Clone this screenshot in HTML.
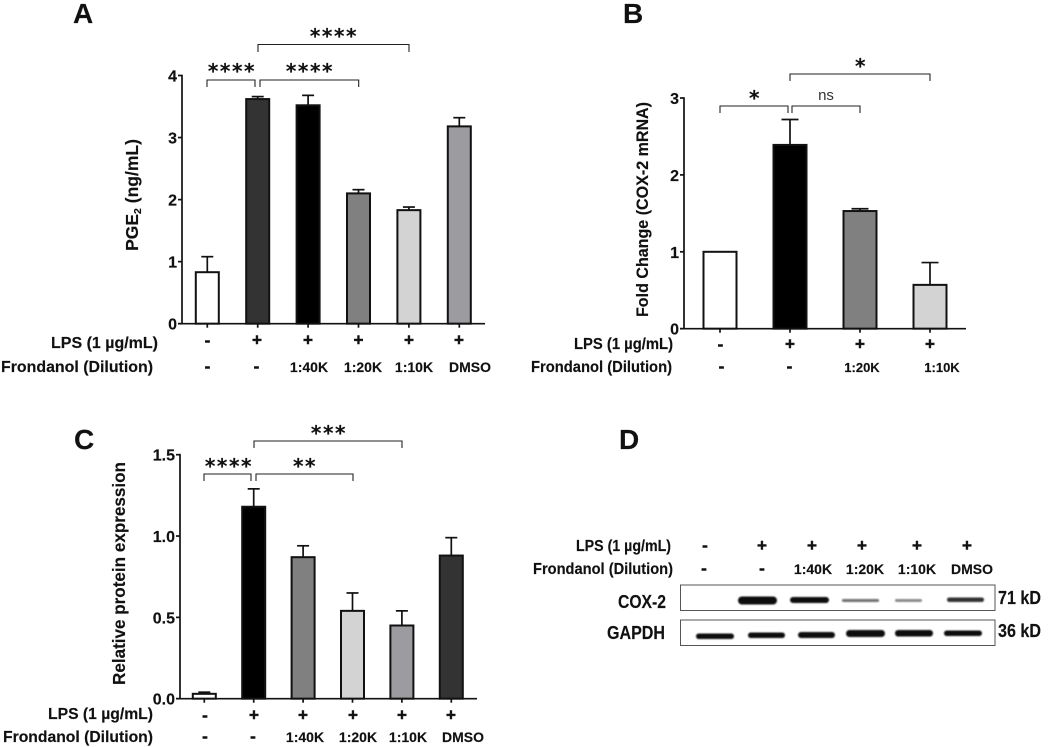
<!DOCTYPE html>
<html>
<head>
<meta charset="utf-8">
<title>Frondanol COX-2 figure</title>
<style>
html,body{margin:0;padding:0;background:#fff;width:1059px;height:747px;overflow:hidden}
svg{display:block;filter:blur(.3px)}
text{font-family:"Liberation Sans",sans-serif;font-weight:bold;fill:#111;stroke:#111;stroke-width:.15px}
.row{font-size:14px;text-anchor:middle}
.sign{font-size:17px;text-anchor:middle;stroke-width:.5px}
.rl{text-anchor:end;font-size:15.5px}
.star{font-family:"DejaVu Sans","Liberation Sans",sans-serif;font-size:20px;text-anchor:middle;letter-spacing:1.6px}
.letter{font-size:28px}
.br{fill:none;stroke:#222;stroke-width:1.1}
.bn{fill:#0c0c0c}
</style>
</head>
<body>
<svg id="fig" width="1059" height="747" viewBox="0 0 1059 747" xmlns="http://www.w3.org/2000/svg">
<defs><filter id="soft" x="-10%" y="-100%" width="120%" height="300%"><feGaussianBlur stdDeviation="0.7"/></filter></defs>

<text class="letter" x="73" y="23">A</text>
<text class="letter" x="623" y="23">B</text>
<text class="letter" x="74" y="449">C</text>
<text class="letter" x="619" y="449">D</text>

<!-- Panel A annotations -->
<g>
<path class="br" d="M258 52V44.5H409V52"/>
<path class="br" d="M207 87V80H255V87"/>
<path class="br" d="M260 87V80H358.7V87"/>
<text class="star" x="334" y="43">****</text>
<text class="star" x="232" y="78">****</text>
<text class="star" x="310" y="78">****</text>
<text class="rl" x="158" y="348" textLength="107" lengthAdjust="spacingAndGlyphs">LPS (1 µg/mL)</text>
<text class="rl" x="153" y="372" textLength="152" lengthAdjust="spacingAndGlyphs">Frondanol (Dilution)</text>
<text class="sign" x="207.500" y="346">-</text>
<text class="sign" x="257" y="345.500">+</text>
<text class="sign" x="308" y="345.500">+</text>
<text class="sign" x="358.500" y="345.500">+</text>
<text class="sign" x="409" y="345.500">+</text>
<text class="sign" x="459" y="345.500">+</text>
<text class="sign" x="207.500" y="372">-</text>
<text class="sign" x="256.500" y="372">-</text>
<text class="row" x="309" y="372">1:40K</text>
<text class="row" x="363" y="372">1:20K</text>
<text class="row" x="414" y="372">1:10K</text>
<text class="row" x="470" y="372">DMSO</text>
</g>

<!-- Panel B annotations -->
<g>
<path class="br" d="M790 81V74H930V81"/>
<path class="br" d="M720 113V106H788V113"/>
<path class="br" d="M792 113V106H860V113"/>
<text class="star" x="861" y="73">*</text>
<text class="star" x="755" y="105">*</text>
<text x="826" y="100" text-anchor="middle" style="font-size:15px;font-weight:normal;fill:#333;stroke:none">ns</text>
<text class="rl" x="673" y="349" textLength="99" lengthAdjust="spacingAndGlyphs">LPS (1 µg/mL)</text>
<text class="rl" x="672" y="372" textLength="141" lengthAdjust="spacingAndGlyphs">Frondanol (Dilution)</text>
<text class="sign" x="720.500" y="350">-</text>
<text class="sign" x="790" y="349.500">+</text>
<text class="sign" x="860" y="349.500">+</text>
<text class="sign" x="930" y="349.500">+</text>
<text class="sign" x="721.500" y="372">-</text>
<text class="sign" x="789.500" y="372">-</text>
<text class="row" x="862" y="372" style="font-size:13px">1:20K</text>
<text class="row" x="942" y="372" style="font-size:13px">1:10K</text>
</g>

<!-- Panel C annotations -->
<g>
<path class="br" d="M254 448V441H402V448"/>
<path class="br" d="M204 481V474H251V481"/>
<path class="br" d="M256 481V474H353V481"/>
<text class="star" x="329" y="440">***</text>
<text class="star" x="229" y="473">****</text>
<text class="star" x="305" y="473">**</text>
<text class="rl" x="153" y="719" textLength="105" lengthAdjust="spacingAndGlyphs">LPS (1 µg/mL)</text>
<text class="rl" x="153" y="742" textLength="150" lengthAdjust="spacingAndGlyphs">Frondanol (Dilution)</text>
<text class="sign" x="205" y="721">-</text>
<text class="sign" x="254" y="720.500">+</text>
<text class="sign" x="303" y="720.500">+</text>
<text class="sign" x="353" y="720.500">+</text>
<text class="sign" x="402" y="720.500">+</text>
<text class="sign" x="451" y="720.500">+</text>
<text class="sign" x="205" y="742">-</text>
<text class="sign" x="253" y="742">-</text>
<text class="row" x="305" y="742">1:40K</text>
<text class="row" x="358" y="742">1:20K</text>
<text class="row" x="408" y="742">1:10K</text>
<text class="row" x="463" y="742">DMSO</text>
</g>

<!-- Panel D western blot -->
<g>
<text class="rl" x="671" y="551" textLength="95" lengthAdjust="spacingAndGlyphs">LPS (1 µg/mL)</text>
<text class="rl" x="673" y="574" textLength="140" lengthAdjust="spacingAndGlyphs">Frondanol (Dilution)</text>
<text class="sign" x="705" y="551">-</text>
<text class="sign" x="762" y="551">+</text>
<text class="sign" x="812" y="551">+</text>
<text class="sign" x="862" y="551">+</text>
<text class="sign" x="917" y="551">+</text>
<text class="sign" x="967" y="551">+</text>
<text class="sign" x="704" y="574">-</text>
<text class="sign" x="762" y="574">-</text>
<text class="row" x="813" y="574">1:40K</text>
<text class="row" x="865" y="574">1:20K</text>
<text class="row" x="917" y="574">1:10K</text>
<text class="row" x="972" y="574">DMSO</text>
<rect x="680.500" y="585" width="314.500" height="25.500" fill="none" stroke="#555" stroke-width="1"/>
<rect x="680.500" y="620" width="314.500" height="25.500" fill="none" stroke="#555" stroke-width="1"/>
<text x="666" y="608" text-anchor="end" textLength="48" lengthAdjust="spacingAndGlyphs" style="font-size:18px">COX-2</text>
<text x="665" y="639" text-anchor="end" textLength="58" lengthAdjust="spacingAndGlyphs" style="font-size:18px">GAPDH</text>
<text x="998" y="604" textLength="43" lengthAdjust="spacingAndGlyphs" style="font-size:18px">71 kD</text>
<text x="998" y="637" textLength="43" lengthAdjust="spacingAndGlyphs" style="font-size:18px">36 kD</text>
<g filter="url(#soft)">
<rect class="bn" x="738" y="596.500" width="39" height="8" rx="4"/>
<rect class="bn" x="790" y="597" width="39" height="6" rx="3"/>
<rect class="bn" x="842" y="599" width="37" height="3" rx="1.500" opacity=".6"/>
<rect class="bn" x="895" y="599" width="27" height="3" rx="1.500" opacity=".45"/>
<rect class="bn" x="947" y="597.500" width="37" height="4.500" rx="2.200" opacity=".85"/>
</g>
<g filter="url(#soft)">
<rect class="bn" x="696" y="633.500" width="38" height="5.500" rx="2.700"/>
<rect class="bn" x="748" y="632.500" width="37" height="5.500" rx="2.700"/>
<rect class="bn" x="798" y="632" width="37" height="6" rx="3"/>
<rect class="bn" x="846" y="630" width="39" height="7" rx="3.500"/>
<rect class="bn" x="895" y="630" width="38" height="6.500" rx="3.200"/>
<rect class="bn" x="944" y="630.500" width="38" height="5.500" rx="2.700"/>
</g>
</g>
</svg>
<script>
// Panel A data
const aCategories = ['Control', 'LPS', 'LPS 1:40K', 'LPS 1:20K', 'LPS 1:10K', 'LPS DMSO'];
const aValues = [0.83, 3.62, 3.52, 2.10, 1.83, 3.18];
const aErrors = [0.25, 0.04, 0.16, 0.06, 0.05, 0.14];
const aTicks = ['0', '1', '2', '3', '4'];
const aFills = ['#ffffff', '#333333', '#000000', '#808080', '#d3d3d3', '#9c9ca0'];
// Panel B data
const bCategories = ['Control', 'LPS', 'LPS 1:20K', 'LPS 1:10K'];
const bValues = [1.00, 2.39, 1.53, 0.57];
const bErrors = [0, 0.33, 0.03, 0.29];
const bTicks = ['0', '1', '2', '3'];
const bFills = ['#ffffff', '#000000', '#808080', '#d3d3d3'];
// Panel C data
const cCategories = ['Control', 'LPS', 'LPS 1:40K', 'LPS 1:20K', 'LPS 1:10K', 'LPS DMSO'];
const cValues = [0.03, 1.18, 0.87, 0.54, 0.45, 0.88];
const cErrors = [0.01, 0.11, 0.07, 0.11, 0.09, 0.11];
const cTicks = ['0.0', '0.5', '1.0', '1.5'];
const cFills = ['#ffffff', '#000000', '#808080', '#d3d3d3', '#9c9ca0', '#333333'];

const NS = 'http://www.w3.org/2000/svg';
const fig = document.getElementById('fig');

function shape(tag, name, attrs, parent) {
  const el = document.createElementNS(NS, tag);
  
  
  for (const k in attrs) { el.setAttribute(k, attrs[k]); }
  parent.appendChild(el);
  return el;
}

function drawPanel(id, cats, vals, errs, ticks, fills, L) {
  const g = shape('g', 'panel-' + id + '-chart', {}, fig);
  const maxTick = parseFloat(ticks[ticks.length - 1]);
  const y = v => L.y0 + (L.yTop - L.y0) * v / maxTick;
  const step = (L.xLast - L.xFirst) / (cats.length - 1);
  const x = i => L.xFirst + step * i;
  cats.forEach((c, i) => {
    const cx = x(i);
    const top = y(vals[i]);
    const tip = y(vals[i] + errs[i]);
    if (errs[i] > 0) {
      shape('line', id + '-error-stem-' + (i + 1), {x1: cx, x2: cx, y1: top, y2: tip, stroke: '#111', 'stroke-width': 1.7}, g);
      shape('line', id + '-error-cap-' + (i + 1), {x1: cx - L.cap / 2, x2: cx + L.cap / 2, y1: tip, y2: tip, stroke: '#111', 'stroke-width': 1.7}, g);
    }
    shape('rect', id + '-bar-' + (i + 1), {x: cx - L.bw / 2, y: top, width: L.bw, height: L.y0 - top, fill: fills[i], stroke: '#111', 'stroke-width': 2}, g);
    shape('line', id + '-x-tick-' + (i + 1), {x1: cx, x2: cx, y1: L.y0, y2: L.y0 + 4, stroke: '#111', 'stroke-width': 1.7}, g);
  });
  shape('line', id + '-y-axis', {x1: L.ax, x2: L.ax, y1: L.yTop - 0.8, y2: L.y0 + 0.8, stroke: '#111', 'stroke-width': 1.7}, g);
  shape('line', id + '-x-axis', {x1: L.ax - 4, x2: L.xEnd, y1: L.y0, y2: L.y0, stroke: '#111', 'stroke-width': 1.7}, g);
  ticks.forEach(t => {
    const ty = y(parseFloat(t));
    shape('line', id + '-y-tick-' + t, {x1: L.ax - 4, x2: L.ax, y1: ty, y2: ty, stroke: '#111', 'stroke-width': 1.7}, g);
    const lab = shape('text', id + '-y-tick-label-' + t, {x: L.ax - 5, y: ty + 6, 'text-anchor': 'end', style: 'font-size:16px'}, g);
    lab.textContent = t;
  });
  const mid = (L.titleTop + L.titleBottom) / 2;
  const title = shape('text', id + '-y-axis-title', {transform: 'translate(' + L.titleX + ',' + mid + ') rotate(-90)', 'text-anchor': 'middle', style: 'font-size:' + L.titleSize + 'px'}, g);
  if (L.title === 'PGE2') {
    const a = document.createElementNS(NS, 'tspan');
    a.textContent = 'PGE';
    title.appendChild(a);
    const b = document.createElementNS(NS, 'tspan');
    b.setAttribute('dy', '3');
    b.setAttribute('style', 'font-size:10.5px');
    b.textContent = '2';
    title.appendChild(b);
    const d = document.createElementNS(NS, 'tspan');
    d.setAttribute('dy', '-3');
    d.textContent = ' (ng/mL)';
    title.appendChild(d);
  } else {
    title.textContent = L.title;
    title.setAttribute('textLength', L.titleBottom - L.titleTop);
    title.setAttribute('lengthAdjust', 'spacingAndGlyphs');
  }
}

drawPanel('a', aCategories, aValues, aErrors, aTicks, aFills, {ax: 182, y0: 323.7, yTop: 75.5, xFirst: 207.3, xLast: 459.3, xEnd: 485, bw: 23, cap: 12, titleX: 138, titleTop: 138, titleBottom: 252, titleSize: 17.5, title: 'PGE2'});
drawPanel('b', bCategories, bValues, bErrors, bTicks, bFills, {ax: 684, y0: 328.7, yTop: 98, xFirst: 720, xLast: 930, xEnd: 966, bw: 33, cap: 17, titleX: 648, titleTop: 102, titleBottom: 317, titleSize: 17, title: 'Fold Change (COX-2 mRNA)'});
drawPanel('c', cCategories, cValues, cErrors, cTicks, cFills, {ax: 180, y0: 698.7, yTop: 454.7, xFirst: 204.3, xLast: 451.3, xEnd: 477, bw: 23, cap: 12, titleX: 125, titleTop: 462, titleBottom: 685, titleSize: 17.5, title: 'Relative protein expression'});
</script>
</body>
</html>
